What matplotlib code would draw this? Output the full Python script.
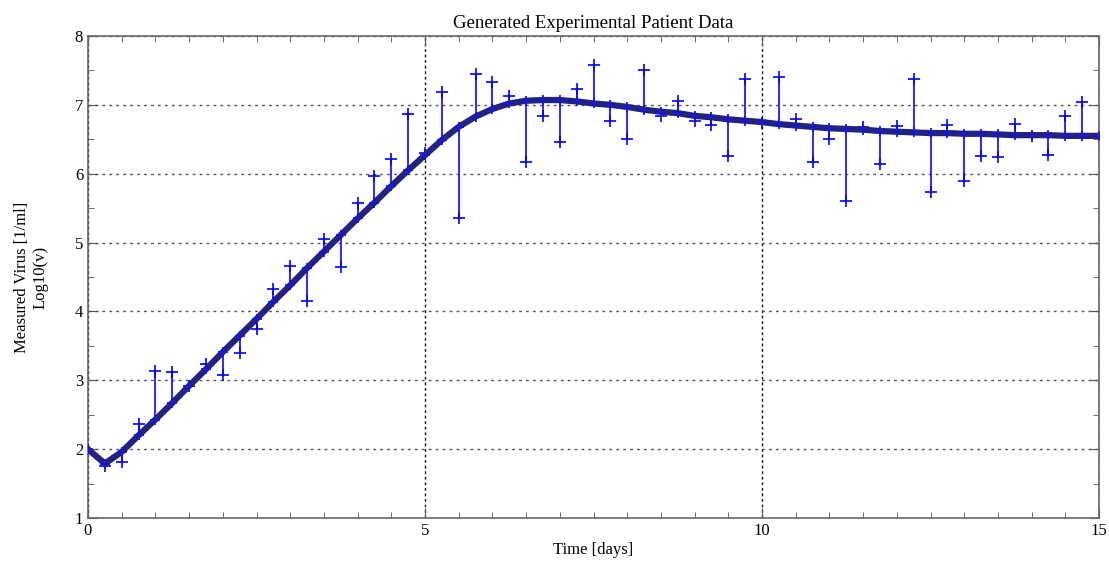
import matplotlib
matplotlib.use('Agg')
import matplotlib.pyplot as plt
import numpy as np
from matplotlib.ticker import MultipleLocator

# model curve, sampled every 0.25 days
t_model = np.arange(0, 15.01, 0.25)
v_model = [2.00, 1.79, 1.96, 2.20, 2.43, 2.67, 2.92, 3.16, 3.41, 3.65,
           3.89, 4.14, 4.38, 4.63, 4.87, 5.11, 5.35, 5.58, 5.82, 6.05,
           6.27, 6.49, 6.68, 6.83, 6.94, 7.02, 7.06, 7.07, 7.07, 7.05,
           7.02, 7.00, 6.97, 6.93, 6.90, 6.88, 6.84, 6.82, 6.79, 6.77,
           6.75, 6.72, 6.70, 6.68, 6.66, 6.65, 6.64, 6.62, 6.61, 6.60,
           6.59, 6.59, 6.58, 6.58, 6.57, 6.56, 6.56, 6.56, 6.55, 6.55,
           6.55]

# measured data, t = 0.25 ... 14.75
v_meas = [1.76, 1.81, 2.36, 3.14, 3.12, 2.92, 3.24, 3.08, 3.39, 3.74,
          4.33, 4.66, 4.15, 5.05, 4.65, 5.57, 5.97, 6.21, 6.86, 6.30,
          7.18, 5.35, 7.45, 7.33, 7.13, 6.17, 6.84, 6.46, 7.23, 7.58,
          6.77, 6.51, 7.51, 6.84, 7.06, 6.77, 6.71, 6.26, 7.37, 6.74,
          7.41, 6.79, 6.17, 6.51, 5.61, 6.68, 6.14, 6.69, 7.37, 5.73,
          6.71, 5.90, 6.26, 6.25, 6.72, 6.55, 6.27, 6.84, 7.04]
t_meas = t_model[1:1 + len(v_meas)]
v_fit = np.array(v_model[1:1 + len(v_meas)])

plt.rcParams['font.family'] = ['Liberation Serif', 'DejaVu Serif']

fig = plt.figure(figsize=(11.09, 5.62), dpi=100)
ax = fig.add_axes([88 / 1109, 1 - 518 / 562, (1099 - 88) / 1109, (518 - 36) / 562])

# residual lines
ax.vlines(t_meas, v_fit, v_meas, colors='#1a1aff', linewidth=1.3, zorder=3)
ax.plot(t_meas, v_meas, '+', color='#0000ff', markersize=9, mew=1.2, zorder=4)

# model
ax.plot(t_model, v_model, '-', color='#222280', linewidth=4.5, zorder=5)
ax.plot(t_model, v_model, '+', color='#1818d0', markersize=7, mew=1.3, zorder=6)

ax.set_xlim(0, 15)
ax.set_ylim(1, 8)
ax.xaxis.set_major_locator(MultipleLocator(5))
ax.xaxis.set_minor_locator(MultipleLocator(0.5))
ax.yaxis.set_major_locator(MultipleLocator(1))
ax.yaxis.set_minor_locator(MultipleLocator(0.5))
ax.tick_params(which='both', direction='in', top=True, right=True,
               color='#555555', labelsize=12)
ax.tick_params(which='major', length=7)
ax.tick_params(which='minor', length=4)
ax.grid(True, which='major', axis='y', color='#555555', linestyle=(0, (2, 3)), linewidth=1)
ax.grid(True, which='major', axis='x', color='#111111', linestyle=(0, (2, 2)), linewidth=1)
for s in ax.spines.values():
    s.set_color('#666666')
    s.set_linewidth(1.2)

ax.set_title('Generated Experimental Patient Data', fontsize=13.5, pad=6)
ax.set_xlabel('Time [days]', fontsize=12, labelpad=2)
ax.set_ylabel('Measured Virus [1/ml]\nLog10(v)', fontsize=12, labelpad=19)

plt.savefig('out.png', dpi=100)
